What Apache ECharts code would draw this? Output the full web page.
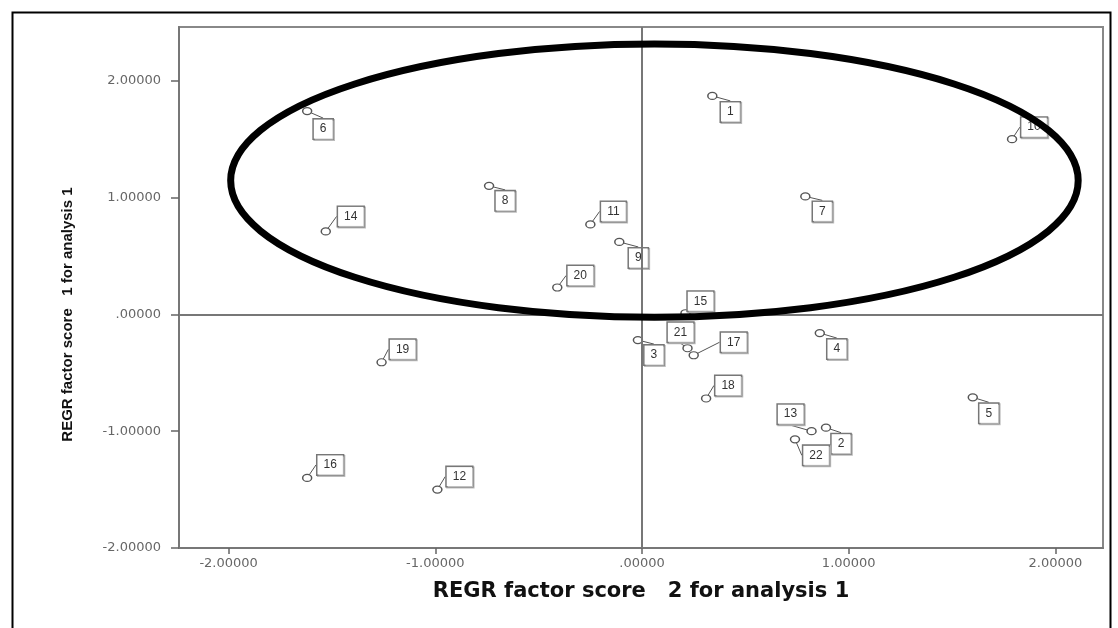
<!DOCTYPE html>
<html>
<head>
<meta charset="utf-8">
<script src="https://cdn.jsdelivr.net/npm/echarts@6/dist/echarts.min.js"></script>
<style>
html,body{margin:0;padding:0;background:#fff;}
#chart{width:1118px;height:628px;}
</style>
</head>
<body>
<div id="chart"></div>
<script>
// ---- data ----
const caseIds = ['1','2','3','4','5','6','7','8','9','10','11','12','13','14','15','16','17','18','19','20','21','22'];
const factorScore2 = [0.34, 0.89, -0.02, 0.86, 1.60, -1.62, 0.79, -0.74, -0.11, 1.79, -0.25, -0.99, 0.82, -1.53, 0.21, -1.62, 0.25, 0.31, -1.26, -0.41, 0.22, 0.74];
const factorScore1 = [1.87, -0.97, -0.22, -0.16, -0.71, 1.74, 1.01, 1.10, 0.62, 1.50, 0.77, -1.50, -1.00, 0.71, 0.01, -1.40, -0.35, -0.72, -0.41, 0.23, -0.29, -1.07];
const tickValues = [-2, -1, 0, 1, 2];
const tickLabels = ['-2.00000', '-1.00000', '.00000', '1.00000', '2.00000'];
// highlighted cluster ellipse: centre x, centre y, radius x, radius y (data units)
const clusterEllipse = [0.06, 1.145, 2.05, 1.17];

// ---- label placement (pixel offsets of each case-number box from its point) ----
const labelOffsets = {
  '1':[18,16], '2':[15,16], '3':[16,15], '4':[17,16], '5':[16,16], '6':[16,18],
  '7':[17,15], '8':[16,15], '9':[19,16], '10':[22,-12], '11':[23,-13], '12':[22,-13],
  '13':[-21,-17], '14':[25,-15], '15':[15,-12], '16':[23,-13], '17':[40,-13], '18':[22,-13],
  '19':[21,-13], '20':[23,-12], '21':[-7,-16], '22':[21,16]
};

const points = caseIds.map((id, i) => [factorScore2[i], factorScore1[i], id]);
const fmt = v => tickLabels[tickValues.indexOf(Math.round(v))];

const chart = echarts.init(document.getElementById('chart'), null, {renderer: 'canvas'});
chart.setOption({
  animation: false,
  backgroundColor: '#fff',
  graphic: [{
    type: 'rect', left: 10, top: 10, z: 100,
    shape: {width: 1098, height: 640},
    style: {fill: 'none', stroke: '#000', lineWidth: 2}
  }],
  grid: {
    left: 179, right: 15, top: 27, bottom: 80,
    show: true, borderColor: '#888', borderWidth: 2, backgroundColor: '#fff'
  },
  xAxis: {
    type: 'value', min: -2.24, max: 2.23,
    name: 'REGR factor score   2 for analysis 1',
    nameLocation: 'middle', nameGap: 33,
    nameTextStyle: {fontFamily: 'DejaVu Sans', fontWeight: 'bold', fontSize: 21, color: '#111'},
    axisLine: {onZero: false, lineStyle: {color: '#777', width: 2}},
    axisTick: {show: true, length: 6, customValues: tickValues, lineStyle: {color: '#666', width: 1.5}},
    axisLabel: {customValues: tickValues, formatter: fmt, margin: 9, fontFamily: 'DejaVu Sans', fontSize: 13, color: '#666'},
    splitLine: {show: false}
  },
  yAxis: {
    type: 'value', min: -2, max: 2.46,
    name: 'REGR factor score   1 for analysis 1',
    nameLocation: 'middle', nameRotate: 90, nameGap: 104,
    nameTextStyle: {fontFamily: 'Liberation Sans', fontWeight: 'bold', fontSize: 15, color: '#111', padding: [0, 54, 0, 0]},
    axisLine: {onZero: false, lineStyle: {color: '#777', width: 2}},
    axisTick: {show: true, length: 8, customValues: tickValues, lineStyle: {color: '#666', width: 1.5}},
    axisLabel: {customValues: tickValues, formatter: fmt, margin: 18, fontFamily: 'DejaVu Sans', fontSize: 13, color: '#666'},
    splitLine: {show: false}
  },
  series: [{
    type: 'scatter',
    data: points,
    symbol: 'circle',
    symbolSize: [9, 7],
    itemStyle: {color: '#fff', borderColor: '#555', borderWidth: 1.3, opacity: 1},
    label: {
      show: true, position: 'inside',
      formatter: p => p.data[2],
      fontFamily: 'Liberation Sans', fontSize: 12, color: '#333',
      backgroundColor: '#fff', borderColor: '#777', borderWidth: 1.5,
      padding: [4, 6, 3, 6],
      shadowColor: '#bbb', shadowOffsetX: 1, shadowOffsetY: 1, shadowBlur: 0
    },
    labelLayout: p => {
      const o = labelOffsets[caseIds[p.dataIndex]];
      return {dx: o[0], dy: o[1]};
    },
    labelLine: {show: true, lineStyle: {color: '#555', width: 1}},
    markLine: {
      silent: true, symbol: 'none', animation: false,
      label: {show: false},
      lineStyle: {color: '#777', width: 2, type: 'solid'},
      data: [{xAxis: 0}, {yAxis: 0}]
    },
    z: 3
  }, {
    type: 'custom',
    data: [clusterEllipse],
    silent: true,
    clip: false,
    z: 10,
    renderItem: (params, api) => {
      const c = api.coord([api.value(0), api.value(1)]);
      const s = api.size([api.value(2), api.value(3)]);
      const rx = s[0], ry = s[1], cx = c[0], cy = c[1];
      const d = `M ${cx - rx} ${cy} A ${rx} ${ry} 0 1 0 ${cx + rx} ${cy} A ${rx} ${ry} 0 1 0 ${cx - rx} ${cy} Z`;
      return {type: 'path', shape: {pathData: d}, style: {fill: 'none', stroke: '#000', lineWidth: 7}};
    }
  }]
});
</script>
</body>
</html>
